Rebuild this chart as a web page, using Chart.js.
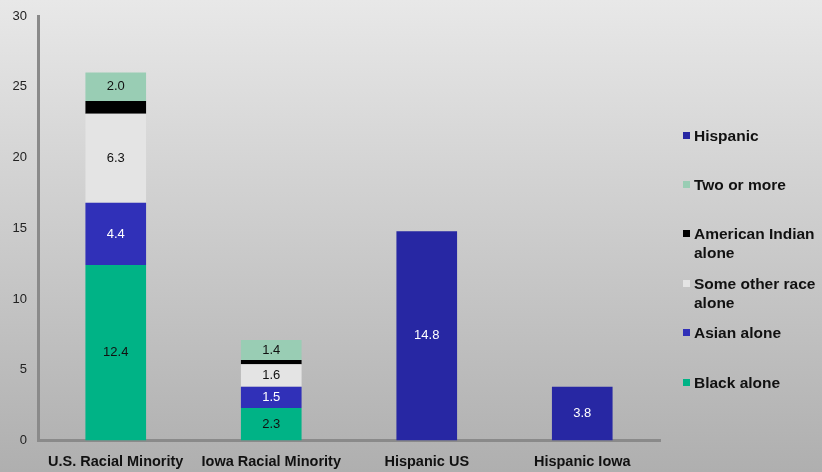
<!DOCTYPE html>
<html lang="en">
<head>
<meta charset="UTF-8">
<title>Racial Minority and Hispanic Share</title>
<script src="https://cdn.jsdelivr.net/npm/chart.js"></script>
<style>
  html, body { margin: 0; padding: 0; }
  body {
    width: 822px; height: 472px; overflow: hidden;
    background: linear-gradient(to bottom, #e8e8e8, #afafaf);
    font-family: 'Liberation Sans', Arial, sans-serif;
  }
  #wrap { position: relative; width: 822px; height: 472px; overflow: hidden; }
  #chart { position: absolute; left: 0; top: 0; }
  #legend { position: absolute; left: 683px; top: 0; width: 140px; }
  .item {
    position: absolute; left: 0; padding-left: 11px; white-space: nowrap;
    font-weight: bold; font-size: 15.5px; line-height: 19px; color: #111;
  }
  .item span {
    position: absolute; left: 0; top: 6px; width: 7px; height: 7px;
  }
</style>
</head>
<body>
<div id="wrap">
  <canvas id="chart" width="822" height="478"></canvas>
  <div id="legend"></div>
</div>
<script>
const categories = ['U.S. Racial Minority', 'Iowa Racial Minority', 'Hispanic US', 'Hispanic Iowa'];
const blackAlone = [12.4, 2.3, null, null];
const asianAlone = [4.4, 1.5, null, null];
const someOther = [6.3, 1.6, null, null];
const amIndian = [0.9, 0.3, null, null];
const twoOrMore = [2.0, 1.4, null, null];
const hispanic = [null, null, 14.8, 3.8];
const yTicks = [0, 5, 10, 15, 20, 25, 30];

const series = [
  { label: 'Black alone', data: blackAlone, color: '#00b386', text: '#111', legendTop: 373 },
  { label: 'Asian alone', data: asianAlone, color: '#3030b8', text: '#fff', legendTop: 323 },
  { label: 'Some other race alone', data: someOther, color: '#e4e4e4', text: '#111', legendTop: 274, html: 'Some other race<br>alone' },
  { label: 'American Indian alone', data: amIndian, color: '#000000', text: null, legendTop: 224, html: 'American Indian<br>alone' },
  { label: 'Two or more', data: twoOrMore, color: '#99cdb4', text: '#111', legendTop: 175 },
  { label: 'Hispanic', data: hispanic, color: '#2727a3', text: '#fff', legendTop: 126 }
];

// legend as html, top item is the last series
const legend = document.getElementById('legend');
series.forEach(s => {
  const d = document.createElement('div');
  d.className = 'item';
  d.style.top = s.legendTop + 'px';
  d.innerHTML = '<span style="background:' + s.color + '"></span>' + (s.html || s.label);
  legend.appendChild(d);
});

// values written in the middle of each segment
const barLabels = {
  id: 'barLabels',
  afterDatasetsDraw(chart) {
    const ctx = chart.ctx;
    ctx.save();
    ctx.font = '13px "Liberation Sans", Arial, sans-serif';
    ctx.textAlign = 'center';
    ctx.textBaseline = 'middle';
    chart.data.datasets.forEach((ds, i) => {
      const s = series[i];
      if (!s.text) return;
      chart.getDatasetMeta(i).data.forEach((bar, j) => {
        const v = ds.data[j];
        if (v == null) return;
        ctx.fillStyle = s.text;
        ctx.fillText(v.toFixed(1), bar.x, (bar.y + bar.base) / 2);
      });
    });
    ctx.restore();
  }
};

new Chart(document.getElementById('chart'), {
  type: 'bar',
  data: {
    labels: categories,
    datasets: series.map(s => ({
      label: s.label,
      data: s.data,
      backgroundColor: s.color,
      stack: 'a',
      categoryPercentage: 1,
      barPercentage: 0.39
    }))
  },
  options: {
    responsive: false,
    animation: false,
    layout: { padding: { left: 0, right: 162, top: 16, bottom: 2 } },
    plugins: { legend: { display: false }, tooltip: { enabled: false } },
    scales: {
      x: {
        stacked: true,
        grid: { display: false },
        border: { display: true, color: '#8a8a8a', width: 3 },
        ticks: {
          color: '#111',
          padding: 5,
          maxRotation: 0,
          font: { family: '"Liberation Sans", Arial, sans-serif', size: 14.5, weight: 'bold' }
        }
      },
      y: {
        stacked: true,
        min: 0,
        max: 30,
        afterBuildTicks: axis => { axis.ticks = yTicks.map(v => ({ value: v })); },
        afterFit: axis => { axis.width = 38; },
        grid: { display: false },
        border: { display: true, color: '#8a8a8a', width: 3 },
        ticks: {
          color: '#222',
          padding: 3,
          font: { family: '"Liberation Sans", Arial, sans-serif', size: 13 }
        }
      }
    }
  },
  plugins: [barLabels]
});
</script>
</body>
</html>
